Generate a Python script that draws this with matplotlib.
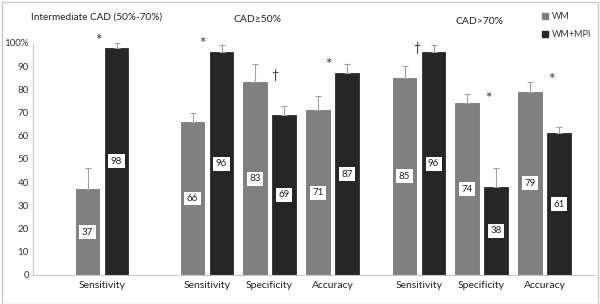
import numpy as np
import matplotlib
matplotlib.use('Agg')
import matplotlib.pyplot as plt
from matplotlib.patches import Patch, Rectangle

plt.rcParams['font.family'] = ['Lato', 'DejaVu Sans']

# data
categories = ['Sensitivity', 'Sensitivity', 'Specificity', 'Accuracy',
              'Sensitivity', 'Specificity', 'Accuracy']
wm = [37, 66, 83, 71, 85, 74, 79]
wm_mpi = [98, 96, 69, 87, 96, 38, 61]
wm_err = [9, 4, 8, 6, 5, 4, 4]
wm_mpi_err = [2, 3, 4, 4, 3, 8, 3]
sig_marks = ['*', '*', '\u2020', '*', '\u2020', '*', '*']
sig_y = [101, 99.5, 86, 90.5, 98, 76, 84]
group_titles = ['Intermediate CAD (50%-70%)', 'CAD\u226550%', 'CAD>70%']
yticks = [0, 10, 20, 30, 40, 50, 60, 70, 80, 90, 100]
ytick_labels = ['0', '10', '20', '30', '40', '50', '60', '70', '80', '90', '100%']

# layout (category slots)
x = np.array([1.104, 2.784, 3.784, 4.792, 6.176, 7.176, 8.184])
sig_dx = [-0.064, -0.08, 0.088, -0.072, -0.03, 0.1, 0.1]
width = 0.376
off = 0.232
c_wm = '#808080'
c_mpi = '#262626'

fig = plt.figure(figsize=(6, 3.04), dpi=100)
ax = fig.add_axes([33/600, 1 - 275/304, 562/600, 232/304])

ax.bar(x - off, wm, width, color=c_wm, edgecolor='#6a6a6a', linewidth=0.5)
ax.bar(x + off, wm_mpi, width, color=c_mpi, edgecolor='#1a1a1a', linewidth=0.5)
ax.errorbar(x - off, wm, yerr=[np.zeros(len(wm)), wm_err], fmt='none',
            ecolor='#a0a0a0', elinewidth=0.8, capsize=2, capthick=0.8)
ax.errorbar(x + off, wm_mpi, yerr=[np.zeros(len(wm_mpi)), wm_mpi_err], fmt='none',
            ecolor='#a0a0a0', elinewidth=0.8, capsize=2, capthick=0.8)

for xi, v in zip(x - off, wm):
    ax.text(xi, v / 2, str(v), ha='center', va='center', fontsize=7, color='#222222',
            bbox=dict(boxstyle='square,pad=0.25', fc='white', ec='none'))
for xi, v in zip(x + off, wm_mpi):
    ax.text(xi, v / 2, str(v), ha='center', va='center', fontsize=7, color='#222222',
            bbox=dict(boxstyle='square,pad=0.25', fc='white', ec='none'))

for xi, dx, m, yv in zip(x, sig_dx, sig_marks, sig_y):
    fs = 11 if m == '*' else 9
    ax.text(xi + dx, yv, m, ha='center', va='center', fontsize=fs, color='#333333',
            clip_on=False)

ax.set_xlim(0, 8.99)
ax.set_ylim(0, 100)
ax.set_xticks(x)
ax.set_xticklabels(categories, fontsize=7.5, color='#222222')
ax.set_yticks(yticks)
ax.set_yticklabels(ytick_labels, fontsize=7, color='#333333')
ax.tick_params(axis='y', length=0, pad=3)
ax.tick_params(axis='x', length=0, pad=4)
for s in ['top', 'right']:
    ax.spines[s].set_visible(False)
ax.spines['left'].set_color('#c8c8c8')
ax.spines['bottom'].set_color('#c8c8c8')
ax.spines['left'].set_linewidth(0.8)
ax.spines['bottom'].set_linewidth(0.8)

fig.text(31/600, 1 - 17/304, group_titles[0], ha='left', va='center', fontsize=7.2, color='#222222')
fig.text(258/600, 1 - 19/304, group_titles[1], ha='center', va='center', fontsize=7.5, color='#222222')
fig.text(479/600, 1 - 21/304, group_titles[2], ha='center', va='center', fontsize=7.5, color='#222222')

handles = [Patch(color=c_wm, label='WM'), Patch(color=c_mpi, label='WM+MPI')]
fig.legend(handles=handles, loc='upper left', bbox_to_anchor=(534/600, 1 - 4/304),
           frameon=False, fontsize=6.5, handlelength=0.6, handleheight=0.6,
           handletextpad=0.5, labelspacing=1.0, labelcolor='#333333')

fig.patches.append(Rectangle((0.003, 0.0), 0.994, 0.995, transform=fig.transFigure,
                             fill=False, ec='#c8c8c8', lw=1))

fig.savefig('out.png', dpi=100)
